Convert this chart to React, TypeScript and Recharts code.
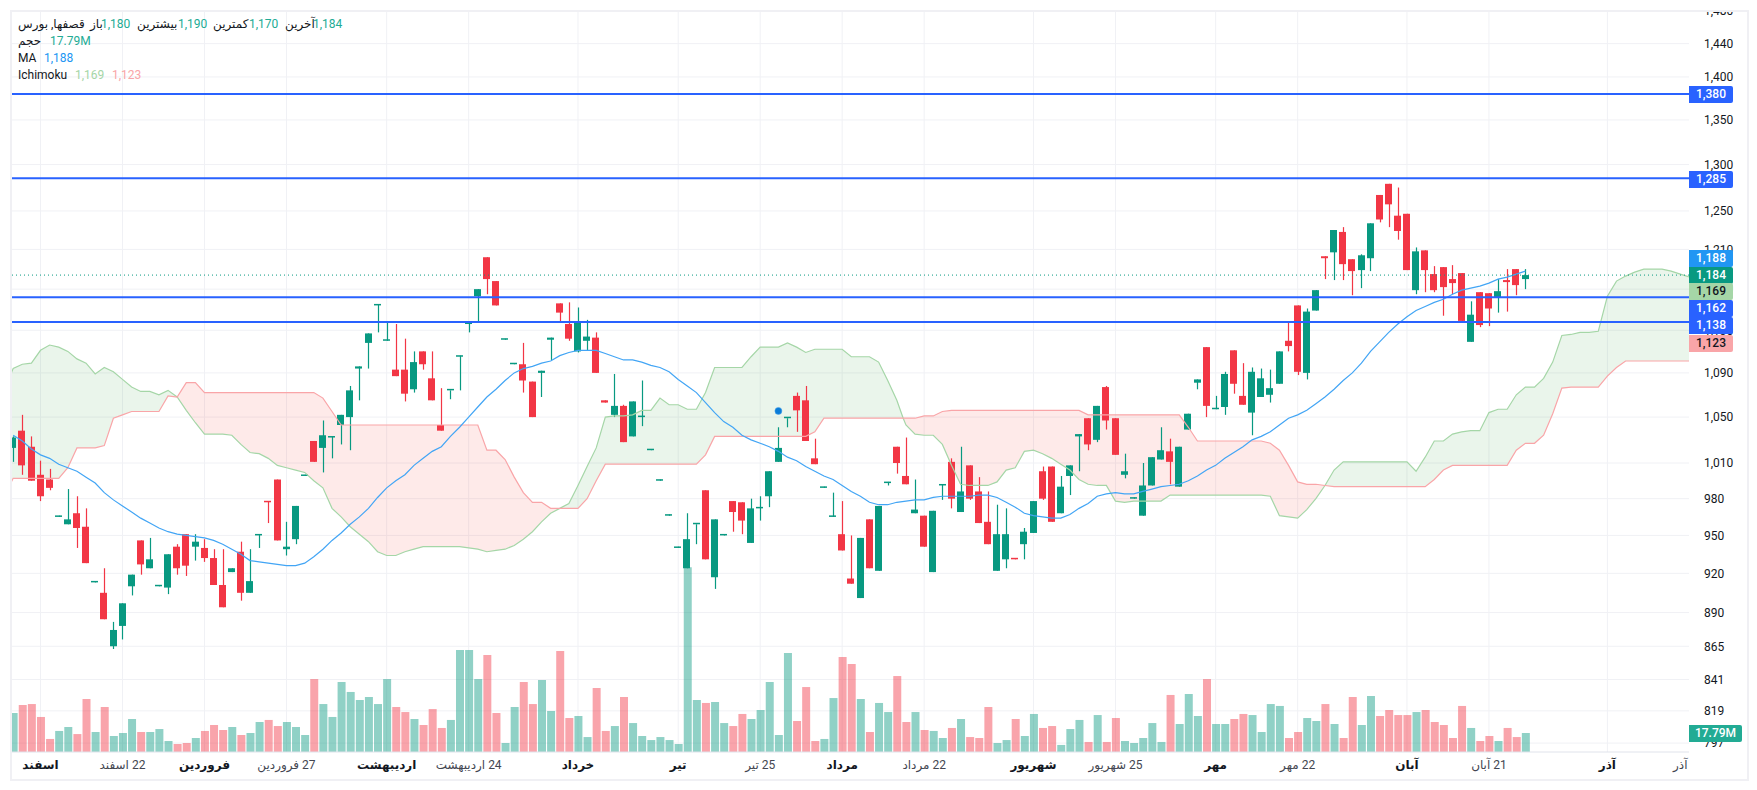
import React from 'react';
import {
  ComposedChart, Bar, Line, Area, XAxis, YAxis, CartesianGrid, Cell, ReferenceLine, ReferenceDot,
} from 'recharts';

// daily candles, one column per array
const opens = [
  1023,1038,1024,1000,996,965,959,968,957,913,
  905,865,880,910,946,924,910,909,941,951,
  941,940,932,911,921,937,905,950,978,996,
  939,947,999,1029,1023,1032,1043,1050,1094,1118,
  1154,1120,1093,1093,1075,1110,1085,1043,1074,1105,
  1136,1163,1202,1178,1121,1098,1098,1082,1090,1121,
  1156,1136,1110,1120,1123,1065,1052,1060,1033,1050,
  1021,995,966,940,924,959,987,917,950,978,
  977,944,972,982,1011,1049,1069,1065,1014,989,
  965,951,916,901,963,922,993,1024,999,968,
  966,921,991,1011,969,1008,986,961,922,931,
  932,943,952,1003,1007,968,999,1033,1049,1030,
  1077,1049,1000,980,966,991,1013,1020,990,1039,
  1081,1114,1057,1059,1111,1069,1054,1068,1070,1080,
  1120,1154,1090,1149,1203,1207,1228,1200,1189,1201,
  1267,1279,1245,1247,1169,1209,1185,1192,1180,1186,
  1119,1167,1166,1162,1179,1190,1180,
];
const highs = [
  1033,1052,1033,1012,1005,966,988,982,972,914,
  924,883,897,919,946,948,911,935,943,951,
  951,947,939,939,924,945,939,951,978,996,
  961,974,1000,1029,1047,1033,1052,1078,1096,1127,
  1155,1138,1136,1122,1110,1110,1110,1076,1074,1106,
  1137,1170,1202,1178,1122,1099,1118,1082,1092,1123,
  1156,1157,1152,1140,1128,1065,1089,1061,1064,1083,
  1022,996,967,941,968,959,987,963,951,978,
  977,980,982,1003,1041,1049,1072,1078,1031,990,
  985,978,950,948,963,974,994,1024,1032,996,
  966,970,992,1014,1024,1008,998,986,975,972,
  932,956,978,1007,1007,999,1008,1035,1049,1060,
  1078,1049,1018,981,1010,1015,1041,1031,1024,1053,
  1084,1114,1069,1091,1111,1099,1095,1094,1093,1110,
  1138,1154,1151,1169,1203,1230,1233,1200,1205,1237,
  1267,1279,1275,1247,1212,1209,1193,1192,1194,1186,
  1158,1167,1166,1180,1190,1190,1190,
];
const lows = [
  1011,1000,995,978,987,965,959,940,928,913,
  885,863,870,903,919,924,910,904,919,918,
  930,929,911,894,921,899,905,940,960,946,
  934,943,999,1011,1002,1014,1026,1021,1065,1094,
  1128,1120,1087,1064,1072,1093,1065,1038,1066,1074,
  1128,1138,1165,1154,1121,1098,1072,1050,1068,1102,
  1137,1120,1109,1111,1090,1063,1050,1028,1033,1042,
  1021,995,966,940,924,943,931,908,950,953,
  951,944,962,973,1011,1041,1037,1029,1009,989,
  965,938,912,901,924,922,991,1001,992,968,
  941,921,979,972,969,979,960,943,922,924,
  931,931,952,979,961,968,983,1003,1021,1028,
  1039,1017,997,980,966,991,1013,992,990,1039,
  1075,1050,1057,1052,1071,1061,1034,1068,1063,1080,
  1110,1088,1084,1149,1180,1179,1179,1164,1171,1188,
  1238,1233,1220,1189,1165,1167,1167,1144,1165,1139,
  1119,1133,1134,1147,1148,1164,1170,
];
const closes = [
  1032,1008,995,982,989,966,963,956,928,914,
  885,877,897,919,927,931,910,935,924,926,
  945,932,911,894,924,905,914,951,977,946,
  941,974,1000,1011,1034,1033,1052,1074,1096,1127,
  1155,1121,1087,1071,1100,1098,1065,1038,1074,1106,
  1137,1170,1180,1154,1122,1099,1083,1050,1092,1123,
  1147,1122,1138,1124,1090,1063,1060,1028,1064,1051,
  1022,996,967,941,947,959,931,963,951,969,
  962,972,973,1003,1023,1049,1056,1029,1009,990,
  966,938,912,948,924,974,994,1010,992,971,
  941,970,992,980,986,980,960,943,951,951,
  931,953,978,980,961,990,1008,1035,1026,1060,
  1047,1017,1003,981,991,1015,1021,1011,1024,1053,
  1084,1060,1058,1089,1080,1061,1091,1085,1076,1110,
  1115,1091,1148,1169,1201,1230,1195,1188,1204,1237,
  1241,1257,1229,1189,1208,1189,1169,1172,1176,1139,
  1145,1135,1151,1168,1177,1174,1184,
];
// volume in millions
const volumes = [
  36.5,44,44.9,32.8,12.2,19.7,23.4,16.8,49.6,18.7,
  42.1,15,17.8,30.9,18.7,18.7,21.5,10.3,7.5,8.4,
  13.1,19.7,25.3,20.6,23.4,15.9,17.8,28.1,30,24.3,
  28.1,23.4,15.9,68.3,44.9,32.8,65.5,56.2,48.7,51.5,
  44.9,68.3,42.1,37.4,30.9,25.3,40.2,22.5,30,95.5,
  95.5,68.3,90.8,36.5,8.4,42.1,65.5,44.9,67.4,38.4,
  94.5,31.8,33.7,14,59.9,19.7,24.3,51.5,27.1,15,
  11.2,14,11.2,7.5,173,48.7,45.9,46.8,27.1,24.3,
  35.6,30.9,39.3,65.5,15.9,92.7,29,60.8,10.3,12.2,
  50.5,88.9,82.4,49.6,18.7,45.9,37.4,71.1,28.1,37.4,
  20.6,19.7,13.1,22.5,30.9,14,13.1,42.1,8.4,11.2,
  30.9,15,35.6,22.5,24.3,6.6,21.5,30,9.4,34.6,
  9.4,31.8,10.3,8.4,13.1,27.1,9.4,53.4,26.2,54.3,
  33.7,68.3,26.2,26.2,30.9,35.6,34.6,18.7,44.9,43.1,
  13.1,18.7,31.8,29,44.9,26.2,13.1,51.5,25.3,52.4,
  33.7,39.3,34.6,34.6,37.4,39.3,28.1,25.3,13.1,43.1,
  22.5,10.3,15,10.3,22.5,14,17.79,
];
const maValues = [
  1034,1029,1022,1017,1014,1009,1006,1003,998,993,
  985,979,974,969,964,960,956,953,951,950,
  949,948,946,943,939,935,930,929,928,927,
  926,926,928,933,939,946,952,959,965,972,
  981,989,995,1000,1008,1014,1020,1024,1033,1041,
  1050,1059,1068,1075,1083,1090,1094,1096,1099,1101,
  1106,1109,1111,1111,1111,1108,1105,1102,1102,1100,
  1097,1095,1091,1084,1078,1072,1063,1054,1046,1041,
  1034,1030,1027,1024,1020,1015,1012,1007,1003,999,
  996,991,986,982,977,975,975,977,978,979,
  979,981,982,982,982,982,983,983,981,977,
  973,968,966,965,964,964,967,972,976,982,
  984,985,984,984,986,988,990,991,992,995,
  999,1004,1008,1014,1019,1024,1030,1033,1037,1043,
  1049,1052,1056,1062,1068,1075,1083,1090,1099,1110,
  1119,1128,1136,1143,1149,1153,1157,1160,1165,1169,
  1171,1173,1176,1180,1182,1185,1188,
];
// ichimoku spans, first value sits one bar left of the first candle, they run past the last candle
const spanStart = -1;
const spanA = [
  1074,
  1094,1098,1099,1111,1116,1114,1110,1103,1099,1089,
  1095,1091,1084,1077,1073,1073,1070,1074,1068,1056,
  1045,1035,1035,1035,1034,1026,1019,1018,1014,1008,
  1006,1004,1002,995,989,972,965,957,951,945,
  937,934,934,937,939,941,941,941,941,941,
  940,939,937,938,939,942,947,953,961,968,
  972,976,991,1007,1023,1050,1051,1051,1052,1056,
  1056,1067,1061,1061,1057,1057,1072,1095,1095,1095,
  1095,1105,1114,1114,1114,1118,1114,1109,1112,1112,
  1112,1112,1105,1105,1105,1100,1083,1065,1043,1035,
  1034,1034,1026,1008,992,991,991,991,994,1004,
  1006,1020,1021,1018,1014,1009,1004,996,992,991,
  991,978,977,978,978,978,978,983,983,983,
  983,983,983,983,983,983,983,983,982,966,
  965,964,971,980,991,1004,1011,1011,1011,1011,
  1011,1011,1011,1011,1003,1015,1029,1029,1035,1037,
  1038,1038,1054,1057,1057,1070,1077,1077,1085,1100,
  1125,1126,1128,1128,1129,1163,1178,1183,1187,1190,
  1190,1190,1188,1185,1182,
];
const spanB = [
  982,
  997,997,997,997,997,997,1006,1023,1023,1023,
  1025,1049,1052,1055,1055,1055,1055,1069,1068,1081,
  1081,1072,1072,1072,1072,1072,1072,1072,1072,1072,
  1072,1072,1072,1072,1067,1055,1043,1043,1043,1043,
  1043,1043,1043,1043,1043,1043,1043,1043,1043,1043,
  1043,1043,1021,1021,1013,998,985,977,977,972,
  972,972,972,980,995,1009,1009,1009,1009,1009,
  1009,1009,1009,1009,1009,1009,1017,1033,1033,1033,
  1033,1033,1033,1033,1033,1033,1033,1033,1037,1049,
  1049,1049,1049,1049,1049,1049,1049,1049,1049,1049,
  1051,1051,1055,1056,1056,1056,1056,1056,1056,1056,
  1056,1056,1056,1056,1056,1056,1056,1056,1052,1052,
  1052,1052,1052,1052,1052,1052,1052,1052,1052,1041,
  1029,1029,1029,1029,1029,1029,1029,1029,1027,1021,
  1008,994,992,992,991,990,990,990,990,990,
  990,990,990,990,990,990,996,1004,1008,1008,
  1008,1008,1008,1008,1008,1021,1027,1027,1034,1053,
  1076,1077,1077,1077,1077,1087,1095,1101,1101,1101,
  1101,1101,1101,1101,1101,
];
// spans cross between two bars here
const crossBars = [97.7];
const crossPrices = [1049];

const priceLines = [1380, 1285, 1162, 1138];
const lastPrice = 1184;
const markerBar = 84;
const markerPrice = 1055.5;

const priceTicks = [797, 819, 841, 865, 890, 920, 950, 980, 1010, 1050, 1090, 1130, 1170, 1210, 1250, 1300, 1350, 1400, 1440, 1480];
const timeBars = [3, 12, 21, 30, 41, 50, 62, 73, 82, 91, 100, 112, 121, 132, 141, 153, 162, 175, 183];
const timeLabels = ['اسفند', '22 اسفند', 'فروردین', '27 فروردین', 'اردیبهشت', '24 اردیبهشت', 'خرداد', 'تیر', '25 تیر', 'مرداد', '22 مرداد', 'شهریور', '25 شهریور', 'مهر', '22 مهر', 'آبان', '21 آبان', 'آذر', 'آذر'];
const gridBars = timeBars.slice(0, -1);

const UP = '#089981';
const DOWN = '#f23645';
const BLUE = '#2962ff';
const FONT = 'Roboto, "DejaVu Sans", sans-serif';

const candles = opens.map((o, i) => ({
  x: i,
  body: [Math.min(o, closes[i]), Math.max(o, closes[i])],
  wick: [lows[i], highs[i]],
  vol: volumes[i],
  ma: maValues[i],
  up: closes[i] >= o,
}));

const cloud = spanA
  .map((a, i) => ({ x: i + spanStart, a, b: spanB[i] }))
  .concat(crossBars.map((x, i) => ({ x, a: crossPrices[i], b: crossPrices[i] })))
  .sort((p, q) => p.x - q.x)
  .map((p) => ({
    ...p,
    green: p.a >= p.b ? [p.b, p.a] : null,
    red: p.b >= p.a ? [p.a, p.b] : null,
  }));

// both candle parts share one bar size so they keep the same centre, widths are set here
const CandleBody = (p: any) => {
  const left = Math.round(p.x + p.width / 2 - 3.5);
  return <rect x={left} y={p.y} width={7} height={p.height} fill={p.payload.up ? UP : DOWN} />;
};
const CandleWick = (p: any) => {
  if (!p.height) return null;
  const left = Math.round(p.x + p.width / 2 - 3.5);
  return <rect x={left + 2.9} y={p.y} width={1.2} height={p.height} fill={p.payload.up ? UP : DOWN} />;
};

const TimeTick = (props: any) => {
  const label = timeLabels[timeBars.indexOf(props.payload.value)];
  const plain = /\d/.test(label) || props.payload.value === 183;
  return (
    <text
      x={props.x}
      y={765}
      textAnchor="middle"
      dominantBaseline="central"
      fontFamily={FONT}
      fontSize={12}
      fontWeight={plain ? 400 : 700}
      fill={plain ? '#434651' : '#131722'}
      style={{ direction: 'rtl', unicodeBidi: 'plaintext' }}
    >
      {label}
    </text>
  );
};

const tags = [
  { text: '1,380', top: 86, bg: BLUE, fg: '#fff' },
  { text: '1,285', top: 171, bg: BLUE, fg: '#fff' },
  { text: '1,188', top: 250, bg: '#2196f3', fg: '#fff' },
  { text: '1,184', top: 267, bg: UP, fg: '#fff' },
  { text: '1,169', top: 283, bg: '#a5d6a7', fg: '#131722' },
  { text: '1,162', top: 300, bg: BLUE, fg: '#fff' },
  { text: '1,138', top: 317, bg: BLUE, fg: '#fff' },
  { text: '1,123', top: 335, bg: '#f9a5a8', fg: '#131722' },
  { text: '17.79M', top: 725, bg: '#22ab94', fg: '#fff', w: 53 },
];

const legend = [
  { text: 'قصفها, بورس', left: 18, top: 24, fg: '#131722', rtl: true },
  { text: 'باز', left: 90, top: 24, fg: '#131722', rtl: true },
  { text: '1,180', left: 101, top: 24, fg: '#22ab94' },
  { text: 'بیشترین', left: 137, top: 24, fg: '#131722', rtl: true },
  { text: '1,190', left: 178, top: 24, fg: '#22ab94' },
  { text: 'کمترین', left: 213, top: 24, fg: '#131722', rtl: true },
  { text: '1,170', left: 249, top: 24, fg: '#22ab94' },
  { text: 'آخرین', left: 285, top: 24, fg: '#131722', rtl: true },
  { text: '1,184', left: 313, top: 24, fg: '#22ab94' },
  { text: 'حجم', left: 18, top: 41, fg: '#131722', rtl: true },
  { text: '17.79M', left: 50, top: 41, fg: '#22ab94' },
  { text: 'MA', left: 18, top: 58, fg: '#131722' },
  { text: '1,188', left: 44, top: 58, fg: '#2196f3' },
  { text: 'Ichimoku', left: 18, top: 75, fg: '#131722' },
  { text: '1,169', left: 75, top: 75, fg: '#a5d6a7' },
  { text: '1,123', left: 112, top: 75, fg: '#f9a5a8' },
];

const App = () => {
  const xDomain = [-0.24, 183.96];
  const xProps = { dataKey: 'x', type: 'number' as const, domain: xDomain, ticks: timeBars, allowDataOverflow: true };
  const priceScale = { type: 'number' as const, scale: 'log' as const, domain: [791, 1480.3], allowDataOverflow: true };
  return (
    <div style={{ position: 'absolute', left: 0, top: 0, width: 1757, height: 790, background: '#fff', overflow: 'hidden' }}>
      <ComposedChart
        width={1757}
        height={790}
        data={candles}
        margin={{ top: 11, right: 0, bottom: 10, left: 11 }}
      >
        <CartesianGrid
          xAxisId="main"
          yAxisId="price"
          stroke="#f0f1f5"
          strokeWidth={1}
          horizontalValues={priceTicks}
          verticalValues={gridBars}
        />
        <XAxis
          {...xProps}
          xAxisId="main"
          height={28}
          interval={0}
          tick={<TimeTick />}
          tickLine={false}
          axisLine={{ stroke: '#e0e3eb', strokeWidth: 1 }}
        />
        <XAxis {...xProps} xAxisId="wick" hide />
        <XAxis {...xProps} xAxisId="vol" hide />
        <YAxis
          {...priceScale}
          yAxisId="price"
          orientation="right"
          ticks={priceTicks}
          interval={0}
          width={68}
          tickLine={false}
          axisLine={false}
          tickMargin={9}
          tickFormatter={(v: number) => v.toLocaleString('en-US')}
          tick={{ fill: '#131722', fontSize: 12, fontFamily: FONT }}
        />
        <YAxis {...priceScale} yAxisId="wickPrice" hide />
        <YAxis yAxisId="volume" type="number" domain={[0, 693.6]} allowDataOverflow hide />

        <Bar xAxisId="vol" yAxisId="volume" dataKey="vol" barSize={8} isAnimationActive={false}>
          {candles.map((c) => (
            <Cell key={c.x} fill={c.up ? UP : DOWN} fillOpacity={0.45} />
          ))}
        </Bar>

        <Area xAxisId="main" yAxisId="price" data={cloud} dataKey="green" type="linear" stroke="none" fill="#43a047" fillOpacity={0.11} isAnimationActive={false} />
        <Area xAxisId="main" yAxisId="price" data={cloud} dataKey="red" type="linear" stroke="none" fill="#f44336" fillOpacity={0.11} isAnimationActive={false} />
        <Line xAxisId="main" yAxisId="price" data={cloud} dataKey="a" type="linear" stroke="#a5d6a7" strokeWidth={1.2} dot={false} isAnimationActive={false} />
        <Line xAxisId="main" yAxisId="price" data={cloud} dataKey="b" type="linear" stroke="#f9a5a8" strokeWidth={1.2} dot={false} isAnimationActive={false} />
        <Line xAxisId="main" yAxisId="price" dataKey="ma" type="linear" stroke="#42a5f5" strokeWidth={1.2} dot={false} isAnimationActive={false} />

        <Bar xAxisId="wick" yAxisId="wickPrice" dataKey="wick" barSize={2} shape={<CandleWick />} isAnimationActive={false} />
        <Bar xAxisId="main" yAxisId="price" dataKey="body" barSize={2} minPointSize={1.5} shape={<CandleBody />} isAnimationActive={false} />

        {priceLines.map((p) => (
          <ReferenceLine key={p} xAxisId="main" yAxisId="price" y={p} stroke={BLUE} strokeWidth={2} />
        ))}
        <ReferenceLine xAxisId="main" yAxisId="price" y={lastPrice} stroke={UP} strokeWidth={1} strokeDasharray="1 3" />
        <ReferenceDot xAxisId="main" yAxisId="price" x={markerBar} y={markerPrice} r={3.5} fill="#0a7cd8" stroke="#4aa3e8" strokeWidth={0.5} />
      </ComposedChart>

      <div style={{ position: 'absolute', left: 0, top: 0, width: 1757, height: 10, background: '#fff' }} />
      <div style={{ position: 'absolute', left: 9.5, top: 9.5, width: 1739, height: 771, boxSizing: 'border-box', border: '2px solid #f0f0f4', pointerEvents: 'none' }} />

      {tags.map((t) => (
        <div
          key={t.text + t.top}
          style={{
            position: 'absolute', left: 1689, top: t.top, width: t.w ?? 44, height: 17, lineHeight: '17px',
            background: t.bg, color: t.fg, fontFamily: FONT, fontSize: 12, fontWeight: 500, textAlign: 'center',
            borderRadius: '0 2px 2px 0',
          }}
        >
          {t.text}
        </div>
      ))}

      {legend.map((l) => (
        <div
          key={l.text + l.left + l.top}
          dir={l.rtl ? 'rtl' : 'ltr'}
          style={{
            position: 'absolute', left: l.left, top: l.top - 8, height: 16, lineHeight: '16px',
            color: l.fg, fontFamily: FONT, fontSize: 12, whiteSpace: 'nowrap',
          }}
        >
          {l.text}
        </div>
      ))}
    </div>
  );
};

export default App;
